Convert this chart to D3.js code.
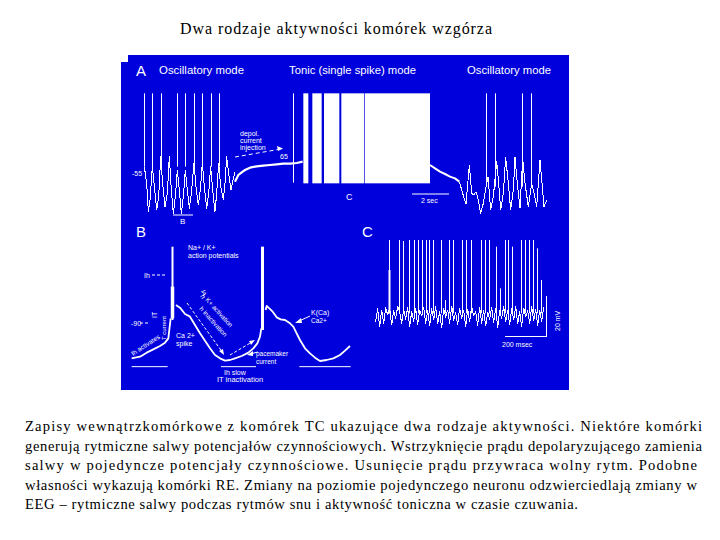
<!DOCTYPE html>
<html><head><meta charset="utf-8">
<script src="https://cdn.jsdelivr.net/npm/d3@7"></script>
<style>html,body{margin:0;padding:0;background:#fff}svg{display:block}</style></head>
<body><div id="c"></div>
<script>
const titleText = "Dwa rodzaje aktywności komórek wzgórza";
const captionLines = [
 "Zapisy wewnątrzkomórkowe z komórek TC ukazujące dwa rodzaje aktywności. Niektóre komórki",
 "generują rytmiczne salwy potencjałów czynnościowych. Wstrzyknięcie prądu depolaryzującego zamienia",
 "salwy w pojedyncze potencjały czynnościowe. Usunięcie prądu przywraca wolny rytm. Podobne",
 "własności wykazują komórki RE. Zmiany na poziomie pojedynczego neuronu odzwierciedlają zmiany w",
 "EEG – rytmiczne salwy podczas rytmów snu i aktywność toniczna w czasie czuwania."];
const captionWidths = [677,677,672,672,553];

// Panel A
const aLeftT = [73,80,85,90,97,103,110,116,122,128,135,142,148,154,160,166,172,178,184,190,196,202,208,214,222,228,235,241,247,253,260,266,272,278,285,290,296,302,310,315,320,326,333,340,345];
const aLeftV = [175,125,40,75,175,115,45,85,205,125,55,95,205,105,35,85,165,105,35,85,165,105,50,95,185,115,60,105,185,115,50,95,175,105,40,95,185,115,75,125,205,155,105,140,160];
const aLeftSpikes = [73,97,122,172,196,222,247,272,296];
const aPlateauT = [345,355,365,375,390,410,430,450,470,490,510,530,548];
const aPlateauV = [130,150,158,165,172,176,178,180,182,184,184,186,190];
const aTonicSingle = [520];
const aTonicBlockStart = [550,577,612,664,735];
const aTonicBlockEnd = [565,605,658,733,930];
const aDecayT = [930,945,960,975,990,1005,1018];
const aDecayV = [180,170,160,153,145,140,130];
const aRightT = [1018,1028,1038,1048,1055,1062,1068,1075,1082,1090,1098,1104,1112,1120,1130,1136,1142,1150,1157,1165,1172,1180,1185,1192,1200,1208,1215,1225,1235,1242,1250,1260,1266,1272,1280];
const aRightV = [130,95,63,180,95,90,100,75,35,65,115,145,45,85,190,125,45,95,203,125,45,105,203,125,50,200,125,55,125,95,55,195,125,55,75];
const aRightSpikes = [1099,1126,1207,1234];

// Panel B
const b1T = [35,45,60,80,100,120,135,145,152];
const b1V = [95,97,100,112,122,132,142,155,215];
const b2T = [168,172,180,195,210,225,240,255,270,285,300,315,330,345,365,385,400,412,420,424];
const b2V = [255,252,247,228,220,195,170,148,125,105,95,88,90,95,102,112,125,140,160,185];
const b3T = [437,440,448,458,470,482,495,510,520,530,540,555,570,585,600,620,640,660,675,690];
const b3V = [240,252,245,235,218,212,210,200,190,170,150,125,110,97,87,90,95,105,118,132];
const bSpikes = [157,427];
const bBarStart = [35,303,538];
const bBarEnd = [143,408,692];

// Panel C
const cSpikeT = [103,133,145,163,176,190,202,214,223,235,259,271,283,295,320,332,349,377,390,403,424,436,449,460,472,497,511,521,533,545,557];
const cSpikeTop = [450,450,447,450,450,450,450,450,450,450,450,270,450,450,450,450,450,450,450,450,430,305,450,450,430,450,450,450,450,425,330];
const cNoiseStep = 6, cNoiseStart = 62;
const cNoiseV = [205,245,190,240,200,248,225,245,195,238,215,250,235,200,242,212,247,190,235,205,245,195,240,222,248,200,238,192,244,210,250,198,236,186,245,218,240,200,252,208,232,196,246,215,238,190,243,205,250,222,236,194,247,200,240,192,234,212,248,202,244,188,238,215,250,205,240,196,245,210,252,198,236,190,246,220,238,200,250,207,243,194,240,205,248];

const W=720,H=540;
const svg=d3.select("#c").append("svg").attr("width",W).attr("height",H);
svg.append("rect").attr("width",W).attr("height",H).attr("fill","#fff");

const serif="'Liberation Serif','Times New Roman',serif", sans="'Liberation Sans',Arial,sans-serif";
svg.append("text").attr("x",180).attr("y",34).attr("font-family",serif).attr("font-size",16)
  .attr("textLength",312).attr("lengthAdjust","spacing").text(titleText);
svg.selectAll("text.cap").data(captionLines).join("text").attr("class","cap")
  .attr("x",25).attr("y",(d,i)=>431+i*19.6).attr("font-family",serif).attr("font-size",14.6)
  .attr("textLength",(d,i)=>captionWidths[i]).attr("lengthAdjust","spacing").text(d=>d);

const BLUE="#0000dc";
svg.append("path").attr("fill",BLUE).attr("d",d3.line()([[128,55],[569,55],[569,390],[121,390],[121,62],[128,62]])+"Z");

const p=svg.append("g");
const xA=d3.scaleLinear().domain([0,1350]).range([120,570]);
const yA=d3.scaleLinear().domain([0,525]).range([225,50]);
const xB=d3.scaleLinear().domain([0,720]).range([120,360]);
const yB=d3.scaleLinear().domain([0,510]).range([390,220]);
const xC=d3.scaleLinear().domain([0,645]).range([355,570]);
const yC=yB;

function trace(ts,vs,x,y,w,crisp){
  const e=p.append("path").attr("fill","none").attr("stroke","#fff").attr("stroke-width",w||1)
   .attr("stroke-linejoin","round")
   .attr("d",d3.line().x(d=>x(d[0])).y(d=>y(d[1]))(ts.map((t,i)=>[t,vs[i]])));
  if(crisp) e.attr("shape-rendering","crispEdges");
}
function spikes(ts,top,bottom,x,y,w){
  p.selectAll(null).data(ts).join("line")
   .attr("x1",d=>Math.round(x(d))+.5).attr("x2",d=>Math.round(x(d))+.5)
   .attr("y1",(d,i)=>y(typeof top==="number"?top:top[i])).attr("y2",y(bottom))
   .attr("stroke","#fff").attr("stroke-width",w||1);
}
const SPIKE_TOP=395;
// A
trace(aLeftT,aLeftV,xA,yA,1,true);
spikes(aLeftSpikes,SPIKE_TOP,175,xA,yA);
trace(aPlateauT,aPlateauV,xA,yA,2.2);
spikes(aTonicSingle,SPIKE_TOP,127,xA,yA);
p.selectAll(null).data(aTonicBlockStart).join("rect")
  .attr("x",d=>xA(d)).attr("width",(d,i)=>xA(aTonicBlockEnd[i])-xA(d))
  .attr("y",yA(SPIKE_TOP)).attr("height",yA(125)-yA(SPIKE_TOP)).attr("fill","#fff");
trace(aDecayT,aDecayV,xA,yA,2);
trace(aRightT,aRightV,xA,yA,1,true);
spikes(aRightSpikes,SPIKE_TOP,115,xA,yA);
// B
trace(b1T,b1V,xB,yB,1.8);
trace(b2T,b2V,xB,yB,1.8);
trace(b3T,b3V,xB,yB,1.8);
spikes([bSpikes[0]],430,210,xB,yB,2);
spikes([bSpikes[0]],310,215,xB,yB,3.5);
spikes([bSpikes[1]],430,180,xB,yB,3);
p.selectAll(null).data(bBarStart).join("line")
  .attr("x1",d=>xB(d)).attr("x2",(d,i)=>xB(bBarEnd[i])).attr("y1",yB(70)).attr("y2",yB(70))
  .attr("stroke","#fff");
// C
trace(cNoiseV.map((v,i)=>cNoiseStart+i*cNoiseStep),cNoiseV,xC,yC,1,true);
spikes(cSpikeT,cSpikeTop,230,xC,yC);
spikes([cSpikeT[0]],360,230,xC,yC,2);

// scale bars and small marks
function seg(x1,y1,x2,y2,dash){
  const l=p.append("line").attr("x1",x1).attr("y1",y1).attr("x2",x2).attr("y2",y2).attr("stroke","#fff").attr("stroke-width",1);
  if(dash) l.attr("stroke-dasharray",dash);
}
seg(173,215,193,215); seg(412,194,449,194);
seg(505,336.5,547,336.5); seg(546.5,296,546.5,337);
seg(235,157,281,149,"4 3");
p.append("path").attr("fill","#fff").attr("d","M283,148.5L277,146L278,151Z");
seg(152,275,165,275,"3 2"); seg(140,323,148,323,"3 2");
seg(187,303,223,353,"3 2"); seg(230,355,252,342,"3 2");
p.append("path").attr("fill","#fff").attr("d","M224,355L219,351L223,349Z M255,340L249,341L251,345Z");
seg(250,354,258,352);
p.append("path").attr("fill","#fff").attr("d","M247,355L253,351L253,356Z");
seg(297,322,310,316);
p.append("path").attr("fill","#fff").attr("d","M295,323L301,318L302,323Z");

function lab(s,x,y,size,opt){
  opt=opt||{};
  const t=p.append("text").attr("x",x).attr("y",y).attr("fill","#fff")
    .attr("font-family",sans).attr("font-size",size).text(s);
  if(opt.len) t.attr("textLength",opt.len).attr("lengthAdjust","spacingAndGlyphs");
  if(opt.rot) t.attr("transform",`rotate(${opt.rot} ${x} ${y})`);
  if(opt.w) t.attr("font-weight",opt.w);
}
lab("A",136,76,15); lab("B",136,237,15); lab("C",362,237,15);
lab("Oscillatory mode",159,74,11,{len:85});
lab("Tonic (single spike) mode",289,74,11,{len:127});
lab("Oscillatory mode",467,74,11,{len:84});
lab("depol.",240,136,7); lab("current",240,143,7); lab("injection",240,150,7);
lab("-55",132,176,7); lab("65",280,159,7);
lab("B",180,224,8); lab("C",346,200,9); lab("2 sec",421,203,7);
lab("Na+ / K+",188,250,7); lab("action potentials",188,258,7);
lab("Ih",144,278,7); lab("-90",131,326,7);
lab("Ca 2+",176,338,7); lab("spike",176,346,7);
lab("T current",166,340,6,{rot:-90}); lab("IT",157,318,7,{rot:-90});
lab("Ih activates",133,356,6.5,{rot:-33});
lab("h",200,296,7,{rot:60}); lab("IA",201,291,6,{rot:70});
lab("K+ activation",205,300,6.5,{rot:48}); lab("h inactivation",199,309,6.5,{rot:48});
lab("pacemaker",256,356,6.5); lab("current",256,364,6.5);
lab("Ih slow",224,375,7); lab("IT  inactivation",217,382,7.5);
lab("K(Ca)",311,315,7); lab("Ca2+",311,323,6.5);
lab("200 msec",502,347,7); lab("20 mV",560,331,7,{rot:-90});
</script></body></html>
